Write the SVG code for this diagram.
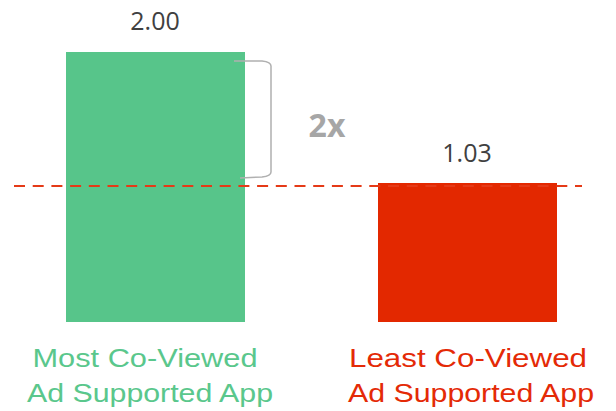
<svg xmlns="http://www.w3.org/2000/svg" width="616" height="411" viewBox="0 0 616 411">
  <style>
    .val { font-family: "Open Sans", "Liberation Sans", sans-serif; font-size: 25px; fill: #404040; text-anchor: middle; }
    .lbl { font-family: "Liberation Sans", "DejaVu Sans", sans-serif; font-size: 26px; text-anchor: middle; }
    .green { fill: #5ac78c; }
    .red { fill: #e42a06; }
  </style>
  <rect width="616" height="411" fill="#ffffff"/>

  <g id="bar-most">
    <rect x="66" y="52" width="179" height="270" fill="#57c58a"/>
    <text class="val" x="155" y="30">2.00</text>
    <text class="lbl green" x="145" y="367" textLength="225" lengthAdjust="spacingAndGlyphs">Most Co-Viewed</text>
    <text class="lbl green" x="150" y="402" textLength="246" lengthAdjust="spacingAndGlyphs">Ad Supported App</text>
  </g>

  <g id="bar-least">
    <rect x="378" y="183" width="179" height="139" fill="#e32800"/>
    <text class="val" x="467" y="162">1.03</text>
    <text class="lbl red" x="468" y="367" textLength="238" lengthAdjust="spacingAndGlyphs">Least Co-Viewed</text>
    <text class="lbl red" x="471" y="402" textLength="246" lengthAdjust="spacingAndGlyphs">Ad Supported App</text>
  </g>

  <g id="connectors">
    <!-- bracket spanning the difference -->
    <path d="M234 61 L262 61 Q271 62 271 66 L271 172 Q271 176 262 177 L240 178" fill="none" stroke="#b0b0b0" stroke-width="1.5"/>
    <!-- reference line at the lower value -->
    <line x1="14" y1="186" x2="582" y2="186" stroke="#e53a17" stroke-width="2" stroke-dasharray="11 7.7"/>
  </g>

  <g id="ratio">
    <text x="327" y="137" font-family="Open Sans, Liberation Sans, sans-serif" font-size="32" font-weight="bold" fill="#a6a6a6" text-anchor="middle">2x</text>
  </g>
</svg>
